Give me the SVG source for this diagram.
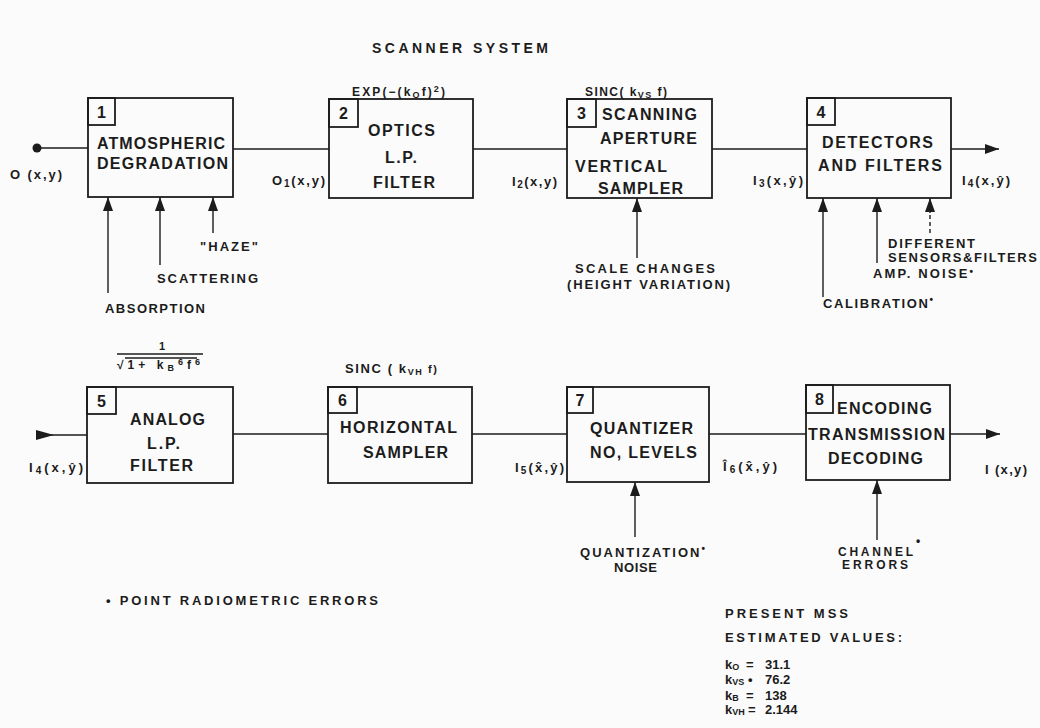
<svg xmlns="http://www.w3.org/2000/svg" width="1040" height="728" viewBox="0 0 1040 728">
<style>
.t{font-family:"Liberation Sans",Arial,sans-serif;font-weight:bold;fill:#1c1c1c}
.b{font-size:16px}
.s{font-size:13px}
.n{font-size:16px;text-anchor:middle}
.box{fill:none;stroke:#1c1c1c;stroke-width:1.8}
.ln{stroke:#1c1c1c;stroke-width:1.4;fill:none}
.dash{stroke-dasharray:4 3}
</style>
<defs>
<marker id="ah" markerUnits="userSpaceOnUse" markerWidth="14" markerHeight="10" refX="14" refY="5" orient="auto">
<path d="M0,0 L14,5 L0,10 z" fill="#1c1c1c"/>
</marker>
<marker id="as" markerUnits="userSpaceOnUse" markerWidth="18" markerHeight="10" refX="0" refY="5" orient="auto">
<path d="M0,0 L18,5 L0,10 z" fill="#1c1c1c"/>
</marker>
</defs>
<rect width="1040" height="728" fill="#fbfbfb"/>

<text class="t" x="372" y="53" font-size="14" textLength="176" lengthAdjust="spacing">SCANNER SYSTEM</text>

<g id="connectors">
<circle cx="37" cy="148" r="4.5" fill="#1c1c1c"/>
<line class="ln" x1="37" y1="148" x2="88" y2="148"/>
<line class="ln" x1="233" y1="149" x2="329" y2="149"/>
<line class="ln" x1="473" y1="149" x2="567" y2="149"/>
<line class="ln" x1="712" y1="149" x2="807" y2="149"/>
<line class="ln" x1="951" y1="149" x2="999" y2="149" marker-end="url(#ah)"/>
<line class="ln" x1="108" y1="293" x2="108" y2="197" marker-end="url(#ah)"/>
<line class="ln" x1="160" y1="265" x2="160" y2="197" marker-end="url(#ah)"/>
<line class="ln" x1="213" y1="233" x2="213" y2="197" marker-end="url(#ah)"/>
<line class="ln" x1="637" y1="258" x2="637" y2="198" marker-end="url(#ah)"/>
<line class="ln" x1="823" y1="297" x2="823" y2="198" marker-end="url(#ah)"/>
<line class="ln" x1="877" y1="263" x2="877" y2="198" marker-end="url(#ah)"/>
<line class="ln dash" x1="930" y1="233" x2="930" y2="212"/>
<line class="ln" x1="930" y1="213" x2="930" y2="198" marker-end="url(#ah)"/>
<line class="ln" x1="36" y1="435" x2="87" y2="435" marker-start="url(#as)"/>
<line class="ln" x1="233" y1="434" x2="328" y2="434"/>
<line class="ln" x1="472" y1="434" x2="567" y2="434"/>
<line class="ln" x1="709" y1="434" x2="806" y2="434"/>
<line class="ln" x1="950" y1="434" x2="1000" y2="434" marker-end="url(#ah)"/>
<line class="ln" x1="635" y1="537" x2="635" y2="482" marker-end="url(#ah)"/>
<line class="ln" x1="877" y1="540" x2="877" y2="480" marker-end="url(#ah)"/>
</g>

<g id="node1">
<rect class="box" x="88" y="98" width="145" height="99"/>
<rect class="box" x="88" y="98" width="27" height="27"/>
<text class="t n" x="101.5" y="117.5">1</text>
<text class="t b" x="97" y="149" textLength="128" lengthAdjust="spacing">ATMOSPHERIC</text>
<text class="t b" x="97" y="169" textLength="131" lengthAdjust="spacing">DEGRADATION</text>
</g>
<g id="node2">
<rect class="box" x="329" y="99" width="144" height="99"/>
<rect class="box" x="329" y="99" width="29" height="28"/>
<text class="t n" x="343.5" y="119">2</text>
<text class="t b" x="368" y="136" textLength="67" lengthAdjust="spacing">OPTICS</text>
<text class="t b" x="385" y="163" textLength="32" lengthAdjust="spacing">L.P.</text>
<text class="t b" x="373" y="188" textLength="62" lengthAdjust="spacing">FILTER</text>
</g>
<g id="node3">
<rect class="box" x="567" y="99" width="145" height="99"/>
<rect class="box" x="567" y="99" width="29" height="28"/>
<text class="t n" x="581.5" y="119">3</text>
<text class="t b" x="602" y="120" textLength="95" lengthAdjust="spacing">SCANNING</text>
<text class="t b" x="600" y="144" textLength="97" lengthAdjust="spacing">APERTURE</text>
<text class="t b" x="575" y="172" textLength="92" lengthAdjust="spacing">VERTICAL</text>
<text class="t b" x="598" y="194" textLength="85" lengthAdjust="spacing">SAMPLER</text>
</g>
<g id="node4">
<rect class="box" x="807" y="98" width="144" height="100"/>
<rect class="box" x="807" y="98" width="28" height="27"/>
<text class="t n" x="821" y="117.5">4</text>
<text class="t b" x="822" y="148" textLength="111" lengthAdjust="spacing">DETECTORS</text>
<text class="t b" x="818" y="171" textLength="124" lengthAdjust="spacing">AND FILTERS</text>
</g>
<g id="node5">
<rect class="box" x="87" y="387" width="146" height="96"/>
<rect class="box" x="87" y="387" width="29" height="27"/>
<text class="t n" x="101.5" y="406.5">5</text>
<text class="t b" x="130" y="425" textLength="75" lengthAdjust="spacing">ANALOG</text>
<text class="t b" x="147" y="449" textLength="33" lengthAdjust="spacing">L.P.</text>
<text class="t b" x="130" y="471" textLength="63" lengthAdjust="spacing">FILTER</text>
</g>
<g id="node6">
<rect class="box" x="328" y="387" width="144" height="96"/>
<rect class="box" x="328" y="387" width="29" height="26"/>
<text class="t n" x="342.5" y="406">6</text>
<text class="t b" x="340" y="433" textLength="117" lengthAdjust="spacing">HORIZONTAL</text>
<text class="t b" x="363" y="458" textLength="85" lengthAdjust="spacing">SAMPLER</text>
</g>
<g id="node7">
<rect class="box" x="567" y="387" width="142" height="95"/>
<rect class="box" x="567" y="387" width="26" height="26"/>
<text class="t n" x="580" y="406">7</text>
<text class="t b" x="590" y="434" textLength="103" lengthAdjust="spacing">QUANTIZER</text>
<text class="t b" x="590" y="458" textLength="107" lengthAdjust="spacing">NO, LEVELS</text>
</g>
<g id="node8">
<rect class="box" x="806" y="385" width="144" height="95"/>
<rect class="box" x="806" y="385" width="27" height="28"/>
<text class="t n" x="819.5" y="405">8</text>
<text class="t b" x="837" y="414" textLength="95" lengthAdjust="spacing">ENCODING</text>
<text class="t b" x="808" y="440" textLength="137" lengthAdjust="spacing">TRANSMISSION</text>
<text class="t b" x="828" y="464" textLength="95" lengthAdjust="spacing">DECODING</text>
</g>

<g id="labels">
<text class="t s" x="10" y="179" textLength="52" lengthAdjust="spacing">O (x,y)</text>
<text class="t s" x="272" y="185" textLength="53" lengthAdjust="spacing">O<tspan font-size="10" dy="2">1</tspan><tspan dy="-2">(x,y)</tspan></text>
<text class="t s" x="512" y="186" textLength="45" lengthAdjust="spacing">I<tspan font-size="10" dy="2">2</tspan><tspan dy="-2">(x,y)</tspan></text>
<text class="t s" x="753" y="185" textLength="50" lengthAdjust="spacing">I<tspan font-size="10" dy="2">3</tspan><tspan dy="-2">(x,ŷ)</tspan></text>
<text class="t s" x="962" y="185" textLength="48" lengthAdjust="spacing">I<tspan font-size="10" dy="2">4</tspan><tspan dy="-2">(x,ŷ)</tspan></text>
<text class="t s" x="200" y="251" textLength="58" lengthAdjust="spacing">"HAZE"</text>
<text class="t s" x="157" y="283" textLength="101" lengthAdjust="spacing">SCATTERING</text>
<text class="t s" x="105" y="313" textLength="100" lengthAdjust="spacing">ABSORPTION</text>
<text class="t" font-size="12" x="352" y="96" textLength="93" lengthAdjust="spacing">EXP(−(k<tspan font-size="9" dy="2">O</tspan><tspan dy="-2">f)</tspan><tspan font-size="9" dy="-4">2</tspan><tspan dy="4">)</tspan></text>
<text class="t" font-size="12" x="585" y="96" textLength="82" lengthAdjust="spacing">SINC( k<tspan font-size="9" dy="2">VS</tspan><tspan dy="-2"> f)</tspan></text>
<text class="t s" x="575" y="273" textLength="140" lengthAdjust="spacing">SCALE CHANGES</text>
<text class="t s" x="567" y="289" textLength="163" lengthAdjust="spacing">(HEIGHT VARIATION)</text>
<text class="t s" x="888" y="248" textLength="87" lengthAdjust="spacing">DIFFERENT</text>
<text class="t s" x="888" y="262" textLength="149" lengthAdjust="spacing">SENSORS&amp;FILTERS</text>
<text class="t s" x="873" y="278" textLength="100" lengthAdjust="spacing">AMP. NOISE<tspan font-size="10" dy="-3">•</tspan></text>
<text class="t s" x="823" y="308" textLength="110" lengthAdjust="spacing">CALIBRATION<tspan font-size="10" dy="-5">•</tspan></text>
<text class="t" font-size="11" x="162" y="350" text-anchor="middle">1</text>
<line class="ln" x1="117" y1="354" x2="203" y2="354"/>
<line class="ln" x1="125" y1="358" x2="197" y2="358" stroke-width="1"/>
<text class="t" font-size="12" x="117" y="369" textLength="83" lengthAdjust="spacing">√1+ k<tspan font-size="9" dy="2">B</tspan><tspan font-size="9" dy="-6">6</tspan><tspan dy="4">f</tspan><tspan font-size="9" dy="-4">6</tspan></text>
<text class="t" font-size="13" x="345" y="373" textLength="92" lengthAdjust="spacing">SINC ( k<tspan font-size="9" dy="2">VH</tspan><tspan font-size="11" dy="-2"> f)</tspan></text>
<text class="t s" x="29" y="472" textLength="54" lengthAdjust="spacing">I<tspan font-size="10" dy="2">4</tspan><tspan dy="-2">(x,ŷ)</tspan></text>
<text class="t s" x="515" y="472" textLength="49" lengthAdjust="spacing">I<tspan font-size="10" dy="2">5</tspan><tspan dy="-2">(x̂,ŷ)</tspan></text>
<text class="t s" x="723" y="471" textLength="54" lengthAdjust="spacing">Î<tspan font-size="10" dy="2">6</tspan><tspan dy="-2">(x̂,ŷ)</tspan></text>
<text class="t s" x="985" y="474" textLength="42" lengthAdjust="spacing">I (x,y)</text>
<text class="t s" x="580" y="557" textLength="125" lengthAdjust="spacing">QUANTIZATION<tspan font-size="10" dy="-5">•</tspan></text>
<text class="t s" x="614" y="572" textLength="43" lengthAdjust="spacing">NOISE</text>
<text class="t" font-size="12" x="838" y="556" textLength="75" lengthAdjust="spacing">CHANNEL</text>
<text class="t" font-size="12" x="916" y="545">•</text>
<text class="t" font-size="12" x="842" y="569" textLength="66" lengthAdjust="spacing">ERRORS</text>
<text class="t" font-size="13" x="106" y="605" textLength="272" lengthAdjust="spacing">• POINT RADIOMETRIC ERRORS</text>
<text class="t" font-size="13" x="725" y="618" textLength="123" lengthAdjust="spacing">PRESENT MSS</text>
<text class="t" font-size="13" x="725" y="642" textLength="177" lengthAdjust="spacing">ESTIMATED VALUES:</text>
<text class="t" font-size="13" x="725" y="669">k<tspan font-size="9" dy="1">O</tspan><tspan dy="-1" x="746">=</tspan><tspan x="765">31.1</tspan></text>
<text class="t" font-size="13" x="725" y="684">k<tspan font-size="9" dy="1">VS</tspan><tspan dy="-1" x="748">•</tspan><tspan x="765">76.2</tspan></text>
<text class="t" font-size="13" x="725" y="700">k<tspan font-size="9" dy="1">B</tspan><tspan dy="-1" x="746">=</tspan><tspan x="765">138</tspan></text>
<text class="t" font-size="13" x="725" y="714">k<tspan font-size="9" dy="1">VH</tspan><tspan dy="-1" x="748">=</tspan><tspan x="765">2.144</tspan></text>
</g>
</svg>
